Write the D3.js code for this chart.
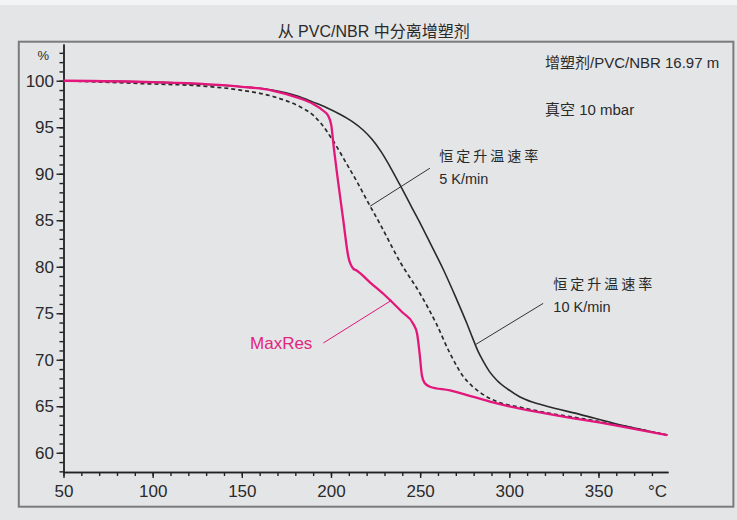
<!DOCTYPE html>
<html><head><meta charset="utf-8">
<script src="https://cdn.jsdelivr.net/npm/d3@7/dist/d3.min.js"></script>
<style>
html,body{margin:0;padding:0;background:#e4e5e6;}
svg{display:block;}
text{font-family:"Liberation Sans", Arial, "Noto Sans CJK SC", sans-serif;fill:#2a2a2a;}
</style></head><body>
<svg id="c" width="737" height="520"></svg>
<script>
// ---------- data ----------
const chartTitle = "从 PVC/NBR 中分离增塑剂";
const infoLines = ["增塑剂/PVC/NBR 16.97 m", "真空 10 mbar"];
const xTickLabels = [50, 100, 150, 200, 250, 300, 350];
const yTickLabels = [60, 65, 70, 75, 80, 85, 90, 95, 100];
const xUnit = "°C";
const yUnit = "%";

// constant heating rate 10 K/min (solid black)
const rate10Temp = [50, 80, 100, 130, 150, 167, 182, 190, 197.6, 205, 212, 218, 223, 228, 233, 238.7, 245, 250, 256, 263, 270, 276, 279.5, 282.5, 285.5, 289, 293, 299.4, 306, 313, 321, 340, 358, 388.6];
const rate10Mass = [100, 99.95, 99.85, 99.6, 99.35, 99.0, 98.3, 97.7, 97.1, 96.4, 95.6, 94.7, 93.7, 92.4, 90.8, 88.8, 86.5, 84.7, 82.4, 79.7, 76.7, 74.0, 72.3, 70.9, 69.8, 68.7, 67.8, 66.8, 66.0, 65.45, 65.0, 64.1, 63.2, 61.9];

// constant heating rate 5 K/min (dashed black)
const rate5Temp = [50, 93, 130, 149, 167.6, 182.6, 190, 194, 201, 209, 215, 220, 227.5, 238.8, 250, 259, 266.7, 274.2, 279, 283.5, 293, 306, 321, 340, 358, 388.6];
const rate5Mass = [100, 99.7, 99.4, 99.0, 98.3, 97.2, 96.3, 95.5, 93.6, 91.0, 89.0, 87.2, 84.6, 80.5, 77.1, 73.9, 70.7, 68.2, 67.2, 66.5, 65.5, 64.9, 64.3, 63.7, 63.1, 61.9];

// MaxRes (magenta)
const maxResTemp = [50, 100, 150, 167, 182.6, 190, 195.5, 198.5, 200.2, 201.3, 204.1, 206.9, 209.7, 212.5, 214.4, 222, 231, 240, 246, 248.3, 249.8, 251, 252.5, 255.5, 266.7, 280, 293, 321, 358, 388.6];
const maxResMass = [100, 99.85, 99.35, 98.95, 98.1, 97.5, 96.8, 96.2, 95.2, 93.3, 89.0, 85.0, 81.1, 79.8, 79.6, 78.3, 76.8, 75.1, 73.9, 72.8, 70.5, 68.3, 67.5, 67.1, 66.7, 66.0, 65.3, 64.2, 63.0, 61.9];

// annotations: label lines, leader from (T,%) to (T,%), text anchor (T,%)
const annotations = [
  {lines: ["恒定升温速率", "5 K/min"], from: [221.9, 86.5], to: [255.5, 90.6], at: [260.7, 91.37], color: "#333"},
  {lines: ["恒定升温速率", "10 K/min"], from: [280.8, 71.6], to: [319.0, 76.06], at: [324.7, 77.6], color: "#333"},
];
const maxResLabel = {text: "MaxRes", from: [195.7, 71.8], to: [234.0, 76.4], at: [154.6, 71.2]};

// ---------- drawing ----------
const svg = d3.select("#c");
svg.append("rect").attr("x",0).attr("y",0).attr("width",737).attr("height",520).attr("fill","#e4e5e6");
svg.append("rect").attr("x",0).attr("y",0).attr("width",737).attr("height",5).attr("fill","#f4f4f4");
svg.append("rect").attr("x",18.8).attr("y",41.7).attr("width",714.6).attr("height",465)
   .attr("fill","none").attr("stroke","#7b7b7b").attr("stroke-width",2);

svg.append("text").attr("x",373.7).attr("y",37).attr("text-anchor","middle")
   .style("font-size","16px").text(chartTitle);

const x = d3.scaleLinear().domain([50, 389]).range([63.5, 668]);
const y = d3.scaleLinear().domain([57.93, 103.95]).range([472, 44]);

// y axis
const gyMin = svg.append("g").attr("transform",`translate(${x(50)},0)`)
  .call(d3.axisLeft(y).tickValues(d3.range(58, 104, 1)).tickSize(4).tickSizeOuter(0).tickFormat(""));
const gy = svg.append("g").attr("transform",`translate(${x(50)},0)`)
  .call(d3.axisLeft(y).tickValues(yTickLabels).tickSize(7).tickSizeOuter(0).tickPadding(2.5));
[gyMin, gy].forEach(g => {
  g.selectAll("path.domain").attr("stroke","#222").attr("stroke-width",1.4);
  g.selectAll(".tick line").attr("stroke","#222").attr("stroke-width",1.4);
});
gy.selectAll(".tick text").style("font-size","17px").attr("fill","#2a2a2a");
svg.append("text").attr("x",49).attr("y",y(102.76)).attr("dy","0.35em").attr("text-anchor","end")
   .style("font-size","13px").text(yUnit);

// x axis
const gxMin = svg.append("g").attr("transform",`translate(0,${y(57.93)})`)
  .call(d3.axisBottom(x).tickValues(d3.range(50, 390, 10)).tickSize(4).tickSizeOuter(0).tickFormat(""));
const gx = svg.append("g").attr("transform",`translate(0,${y(57.93)})`)
  .call(d3.axisBottom(x).tickValues(xTickLabels).tickSize(6).tickSizeOuter(0).tickPadding(7));
[gxMin, gx].forEach(g => {
  g.selectAll("path.domain").attr("stroke","#222").attr("stroke-width",1.4);
  g.selectAll(".tick line").attr("stroke","#222").attr("stroke-width",1.4);
});
gx.selectAll(".tick text").style("font-size","17px").attr("fill","#2a2a2a");
svg.append("text").attr("x",x(383.1)).attr("y",y(57.93)+25).attr("text-anchor","middle")
   .style("font-size","17px").text(xUnit);

// info text
const info = svg.append("g");
infoLines.forEach((t,i) => {
  info.append("text").attr("x",545).attr("y",67.5 + i*47.5).style("font-size","15px").text(t);
});

// curves
const line = d3.line().x(d => x(d[0])).y(d => y(d[1])).curve(d3.curveMonotoneX);
const zip = (a,b) => a.map((v,i) => [v, b[i]]);

svg.append("path").datum(zip(rate5Temp, rate5Mass)).attr("d", line)
   .attr("fill","none").attr("stroke","#2a2a2a").attr("stroke-width",1.7).attr("stroke-dasharray","4,3");
svg.append("path").datum(zip(rate10Temp, rate10Mass)).attr("d", line)
   .attr("fill","none").attr("stroke","#2a2a2a").attr("stroke-width",1.6);
svg.append("path").datum(zip(maxResTemp, maxResMass)).attr("d", line)
   .attr("fill","none").attr("stroke","#e3177b").attr("stroke-width",2.3);

// annotations
annotations.forEach(a => {
  svg.append("line").attr("x1",x(a.from[0])).attr("y1",y(a.from[1]))
     .attr("x2",x(a.to[0])).attr("y2",y(a.to[1])).attr("stroke",a.color).attr("stroke-width",1);
  const t = svg.append("text").attr("x",x(a.at[0])).attr("y",y(a.at[1])).style("font-size","14px");
  t.append("tspan").attr("x",x(a.at[0])).attr("y",y(a.at[1])).style("letter-spacing","3px").text(a.lines[0]);
  t.append("tspan").attr("x",x(a.at[0])).attr("y",y(a.at[1])+23).style("font-size","14.5px").text(a.lines[1]);
});
svg.append("line").attr("x1",x(maxResLabel.from[0])).attr("y1",y(maxResLabel.from[1]))
   .attr("x2",x(maxResLabel.to[0])).attr("y2",y(maxResLabel.to[1]))
   .attr("stroke","#e3177b").attr("stroke-width",1);
svg.append("text").attr("x",x(maxResLabel.at[0])).attr("y",y(maxResLabel.at[1]))
   .style("font-size","17px").style("fill","#e0267e").text(maxResLabel.text);
</script>
</body></html>
